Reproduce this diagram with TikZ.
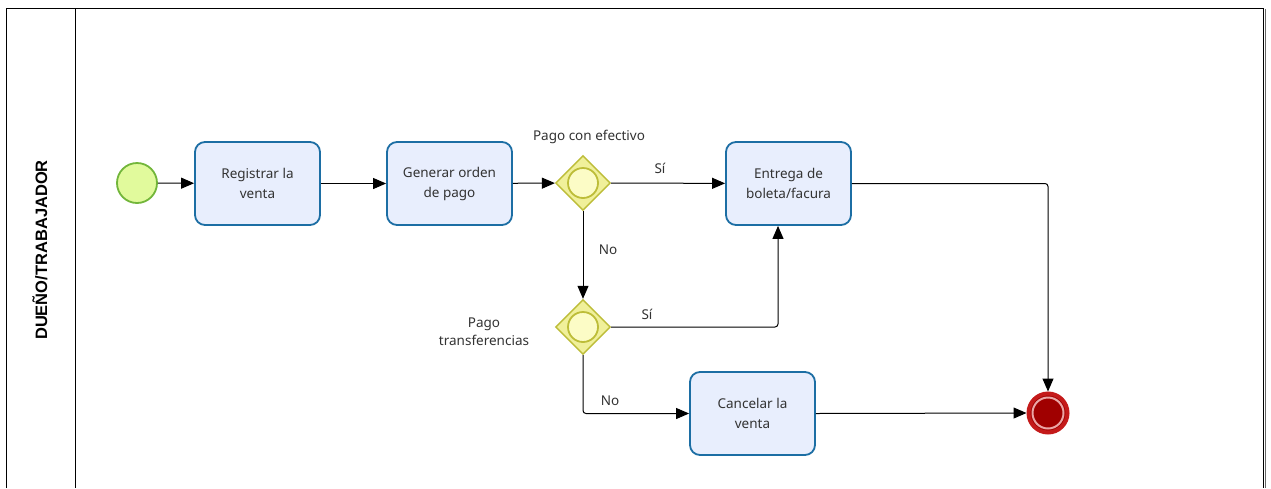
\documentclass[tikz,border=0pt]{standalone}
\usepackage{fontspec}
\setmainfont{Noto Sans}
\newfontfamily\lanefont{Liberation Sans}
\usetikzlibrary{arrows.meta,shapes.geometric}
\definecolor{taskfill}{HTML}{E8EEFD}
\definecolor{taskline}{HTML}{1C6EA4}
\definecolor{startfill}{HTML}{E1FA9C}
\definecolor{startline}{HTML}{72B63A}
\definecolor{gwfill}{HTML}{F0F09A}
\definecolor{gwinner}{HTML}{FCFCC6}
\definecolor{gwline}{HTML}{BDBD38}
\definecolor{endfill}{HTML}{A00000}
\definecolor{endline}{HTML}{C41A1A}
\definecolor{endring}{HTML}{EBA5A5}
\definecolor{txt}{HTML}{333333}
\tikzset{
  x=1pt, y=-1pt,
  task/.style={draw=taskline, fill=taskfill, line width=1.8pt, rounded corners=10pt,
    minimum width=125pt, minimum height=83pt, align=center, text=txt,
    font=\fontsize{13.5}{20}\selectfont, inner sep=0pt},
  startev/.style={circle, draw=startline, fill=startfill, line width=1.8pt, minimum size=40pt, inner sep=0pt},
  gateway/.style={diamond, draw=gwline, fill=gwfill, line width=1.4pt, minimum size=55pt, inner sep=0pt},
  gwring/.style={circle, draw=gwline, fill=gwinner, line width=1.8pt, minimum size=30pt, inner sep=0pt},
  lbl/.style={text=txt, font=\fontsize{13.5}{18}\selectfont, align=center, inner sep=0pt},
  flow/.style={draw=black, line width=1pt, rounded corners=3pt, -{Triangle[length=13pt,width=11pt]}},
}
\begin{document}
\begin{tikzpicture}
\useasboundingbox (0,0) rectangle (1271,488);
\fill[white] (0,0) rectangle (1271,488);
% pool frame and lane header
\draw[line width=1pt, black] (6,488) -- (6,8) -- (1263,8) -- (1263,488);
\draw[line width=1pt, black!60] (1265,9) -- (1265,488);
\draw[line width=1pt, black] (75,8) -- (75,488);
\node[rotate=90, font=\lanefont\bfseries\fontsize{16.5}{18}\selectfont, text=black] (lane) at (40,250) {DUEÑO/TRABAJADOR};

% events, tasks and gateways
\node[startev] (start) at (137,183) {};
\node[task] (t1) at (257.5,183.5) {Registrar la\\venta};
\node[task] (t2) at (449.5,183.5) {Generar orden\\de pago};
\node[gateway] (g1) at (583,183) {};
\node[gwring] (g1c) at (g1) {};
\node[task] (t3) at (788.5,183.5) {Entrega de\\boleta/facura};
\node[gateway] (g2) at (583,327) {};
\node[gwring] (g2c) at (g2) {};
\node[task] (t4) at (752.5,413.5) {Cancelar la\\venta};
\node[circle, draw=endline, fill=endfill, line width=4pt, minimum size=39pt, inner sep=0pt] (end) at (1048,413) {};
\node[circle, draw=endring, line width=2pt, minimum size=31pt, inner sep=0pt] (endr) at (end) {};

% labels
\node[lbl] (lg1) at (589,137) {Pago con efectivo};
\node[lbl] (lg2) at (484,332) {Pago\\transferencias};
\node[lbl] (si1) at (660,168) {Sí};
\node[lbl] (no1) at (608,250) {No};
\node[lbl] (si2) at (647,314) {Sí};
\node[lbl] (no2) at (610,401) {No};

% sequence flows
\draw[flow] (start) -- (t1);
\draw[flow] (t1) -- (t2);
\draw[flow] (t2) -- (g1);
\draw[flow] (g1) -- (t3);
\draw[flow] (g1) -- (g2);
\draw[flow] (g2.east) -| (t3.south -| 778,0);
\draw[flow] (g2.south) |- (t4.west);
\draw[flow] (t3.east) -| (end.north);
\draw[flow] (t4.east) -- (end.west);
\end{tikzpicture}
\end{document}
